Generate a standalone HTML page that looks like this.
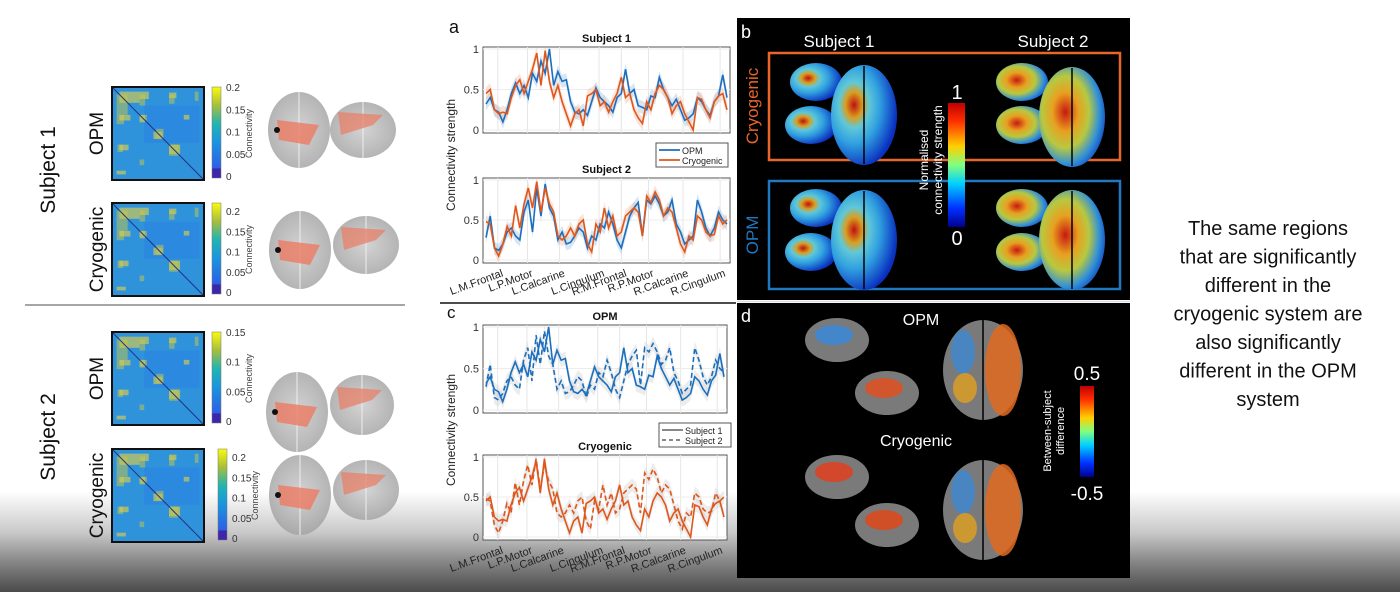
<!DOCTYPE html>
<html><head><meta charset="utf-8"><style>
html,body{margin:0;padding:0;width:1400px;height:592px;overflow:hidden;font-family:"Liberation Sans",sans-serif}
svg{display:block}
</style></head><body>
<svg id="root" width="1400" height="592" viewBox="0 0 1400 592" xmlns="http://www.w3.org/2000/svg">
<defs>
<linearGradient id="bg" x1="0" y1="0" x2="0" y2="1">
<stop offset="0" stop-color="#fff"/><stop offset="0.83" stop-color="#fff"/><stop offset="0.9" stop-color="#c8c8c8"/><stop offset="0.95" stop-color="#858585"/><stop offset="1" stop-color="#4a4a4a"/></linearGradient>
<linearGradient id="parula" x1="0" y1="1" x2="0" y2="0"><stop offset="0" stop-color="#3e26a8"/><stop offset="0.1" stop-color="#3e26a8"/><stop offset="0.11" stop-color="#2d5fe6"/><stop offset="0.4" stop-color="#1996de"/><stop offset="0.6" stop-color="#22b5b0"/><stop offset="0.8" stop-color="#a8be3b"/><stop offset="1" stop-color="#f9fb0e"/></linearGradient>
<linearGradient id="jet" x1="0" y1="1" x2="0" y2="0"><stop offset="0" stop-color="#00008f"/><stop offset="0.15" stop-color="#0030ff"/><stop offset="0.35" stop-color="#00d0ff"/><stop offset="0.5" stop-color="#80ff80"/><stop offset="0.65" stop-color="#ffd000"/><stop offset="0.85" stop-color="#ff3000"/><stop offset="1" stop-color="#c00000"/></linearGradient>
<radialGradient id="bjet1" cx="0.35" cy="0.4" r="0.65"><stop offset="0" stop-color="#c01010"/><stop offset="0.2" stop-color="#d8a020"/><stop offset="0.35" stop-color="#60c8d8"/><stop offset="0.6" stop-color="#30a0e0"/><stop offset="1" stop-color="#0a30c0"/></radialGradient>
<radialGradient id="bjet2" cx="0.4" cy="0.45" r="0.65"><stop offset="0" stop-color="#c81810"/><stop offset="0.3" stop-color="#e8a020"/><stop offset="0.55" stop-color="#b8c840"/><stop offset="0.8" stop-color="#3090d8"/><stop offset="1" stop-color="#1040c0"/></radialGradient>
<radialGradient id="gbrain" cx="0.5" cy="0.5" r="0.6"><stop offset="0" stop-color="#c8c8c8"/><stop offset="1" stop-color="#9a9a9a"/></radialGradient>
</defs>
<rect x="0" y="0" width="1400" height="592" fill="url(#bg)"/>
<g id="left"></g>
<g id="charts"></g>
<g id="panelB">
<rect x="737" y="18" width="393" height="282" fill="#000"/>
<text x="741" y="38" fill="#fff" font-size="18">b</text>
<text x="839" y="47" fill="#fff" font-size="17" text-anchor="middle">Subject 1</text>
<text x="1053" y="47" fill="#fff" font-size="17" text-anchor="middle">Subject 2</text>
<rect x="769" y="53" width="351" height="107" fill="none" stroke="#e8662a" stroke-width="2.5"/>
<rect x="769" y="181" width="351" height="108" fill="none" stroke="#1f78c0" stroke-width="2.5"/>
<text transform="translate(758,106) rotate(-90)" fill="#e8662a" font-size="17" text-anchor="middle">Cryogenic</text>
<text transform="translate(758,235) rotate(-90)" fill="#1f78c0" font-size="17" text-anchor="middle">OPM</text>
<g id="bBrains"></g>
<rect x="948" y="103" width="17" height="124" fill="url(#jet)"/>
<text x="957" y="99" fill="#fff" font-size="20" text-anchor="middle">1</text>
<text x="957" y="245" fill="#fff" font-size="20" text-anchor="middle">0</text>
<text transform="translate(934,160) rotate(-90)" fill="#fff" font-size="12" text-anchor="middle"><tspan x="0" dy="-6">Normalised</tspan><tspan x="0" dy="14">connectivity strength</tspan></text>
</g>
<g id="panelD">
<rect x="737" y="303" width="393" height="275" fill="#000"/>
<text x="741" y="322" fill="#fff" font-size="18">d</text>
<text x="921" y="325" fill="#fff" font-size="16" text-anchor="middle">OPM</text>
<text x="916" y="446" fill="#fff" font-size="16" text-anchor="middle">Cryogenic</text>
<g id="dBrains"></g>
<rect x="1080" y="386" width="14" height="91" fill="url(#jet)"/>
<text x="1087" y="380" fill="#fff" font-size="19" text-anchor="middle">0.5</text>
<text x="1087" y="500" fill="#fff" font-size="19" text-anchor="middle">-0.5</text>
<text transform="translate(1056,431) rotate(-90)" fill="#fff" font-size="11" text-anchor="middle"><tspan x="0" dy="-5">Between-subject</tspan><tspan x="0" dy="13">difference</tspan></text>
</g>
<line x1="737" y1="301.5" x2="1130" y2="301.5" stroke="#ddd" stroke-width="1.5"/>
<text x="1268" y="235" font-size="20" text-anchor="middle" fill="#111"><tspan x="1268" dy="0">The same regions</tspan><tspan x="1268" dy="28.5">that are significantly</tspan><tspan x="1268" dy="28.5">different in the</tspan><tspan x="1268" dy="28.5">cryogenic system are</tspan><tspan x="1268" dy="28.5">also significantly</tspan><tspan x="1268" dy="28.5">different in the OPM</tspan><tspan x="1268" dy="28.5">system</tspan></text>
</svg>
<script>
const regions=["L.M.Frontal","L.P.Motor","L.Calcarine","L.Cingulum","R.M.Frontal","R.P.Motor","R.Calcarine","R.Cingulum"];
const regionPos=[0.06,0.18,0.31,0.47,0.56,0.67,0.81,0.96];
const yTicks=[0,0.5,1];
const yTickLabels=["0","0.5","1"];
const s1Opm=[0.32,0.4,0.25,0.22,0.1,0.25,0.45,0.58,0.45,0.55,0.4,0.7,0.6,0.85,0.7,1.0,0.55,0.72,0.6,0.62,0.35,0.22,0.2,0.25,0.18,0.35,0.52,0.4,0.35,0.3,0.22,0.4,0.45,0.75,0.45,0.5,0.3,0.28,0.25,0.42,0.4,0.65,0.5,0.4,0.3,0.38,0.25,0.12,0.15,0.2,0.4,0.35,0.25,0.18,0.35,0.42,0.68,0.4];
const s1Cryo=[0.45,0.5,0.25,0.2,0.22,0.2,0.4,0.55,0.62,0.45,0.6,0.75,0.95,0.55,0.98,0.6,0.4,0.55,0.35,0.2,0.05,0.2,0.25,0.05,0.42,0.45,0.5,0.3,0.35,0.22,0.35,0.45,0.65,0.4,0.45,0.25,0.15,0.08,0.35,0.25,0.45,0.55,0.5,0.4,0.2,0.3,0.35,0.2,0.1,0.0,0.4,0.38,0.25,0.15,0.35,0.42,0.45,0.25];
const s2Opm=[0.28,0.55,0.15,0.12,0.2,0.35,0.4,0.3,0.25,0.6,0.75,0.35,0.9,0.55,0.95,0.65,0.55,0.25,0.35,0.2,0.22,0.3,0.4,0.35,0.15,0.3,0.25,0.45,0.4,0.6,0.45,0.25,0.15,0.35,0.55,0.65,0.72,0.3,0.75,0.7,0.8,0.7,0.55,0.6,0.75,0.45,0.35,0.2,0.25,0.3,0.75,0.6,0.4,0.3,0.4,0.6,0.5,0.45];
const s2Cryo=[0.48,0.45,0.15,0.05,0.2,0.42,0.3,0.68,0.4,0.7,0.9,0.65,0.98,0.6,0.9,0.7,0.6,0.3,0.25,0.3,0.4,0.3,0.45,0.5,0.2,0.1,0.45,0.35,0.65,0.4,0.55,0.3,0.35,0.55,0.6,0.65,0.6,0.3,0.8,0.72,0.85,0.75,0.55,0.65,0.6,0.4,0.2,0.1,0.3,0.25,0.55,0.5,0.35,0.3,0.32,0.55,0.45,0.5];
const bandHalfWidth=0.08;
const NS="http://www.w3.org/2000/svg";
function mk(tag,attrs,parent){const e=document.createElementNS(NS,tag);for(const k in attrs)e.setAttribute(k,attrs[k]);parent.appendChild(e);return e;}
const charts=document.getElementById('charts');
const BLUE="#1a6fbf",ORANGE="#e0561b";
function plot(cfg){
  const {x0,x1,yTop,yZero,title,series}=cfg;
  const sx=(i,n)=>x0+3+(x1-x0-6)*i/(n-1);
  const sy=v=>yZero-(yZero-yTop-2)*v;
  const g=mk('g',{},charts);
  
  
  const fr=mk('rect',{x:x0,y:yTop,width:x1-x0,height:yZero-yTop+3,fill:'#fff',stroke:'#555','stroke-width':1},g);
  
  
  regionPos.forEach(p=>{const l=mk('line',{x1:x0+(x1-x0)*p,x2:x0+(x1-x0)*p,y1:yTop,y2:yZero+3,stroke:'#e6e6e6'},g);
    
    });
  yTicks.forEach((t,i)=>{const y=sy(t);
    const gl=mk('line',{x1:x0,x2:x1,y1:y,y2:y,stroke:'#ececec'},g);
    
    
    const tx=mk('text',{x:x0-4,y:y+4,'font-size':11,'text-anchor':'end',fill:'#333'},g);tx.textContent=yTickLabels[i];
    
    });
  const tt=mk('text',{x:(x0+x1)/2,y:yTop-5,'font-size':11,'font-weight':'bold','text-anchor':'middle',fill:'#111'},g);tt.textContent=title;
  
  
  series.forEach(s=>{const n=s.data.length;
    let up=s.data.map((v,i)=>sx(i,n)+','+sy(Math.min(1.05,v+bandHalfWidth)));
    let dn=s.data.map((v,i)=>sx(i,n)+','+sy(Math.max(-0.05,v-bandHalfWidth))).reverse();
    const b=mk('polygon',{points:up.concat(dn).join(' '),fill:s.band,opacity:0.35},g);
    
    });
  series.forEach(s=>{const n=s.data.length;
    const p=mk('polyline',{points:s.data.map((v,i)=>sx(i,n)+','+sy(v)).join(' '),fill:'none',stroke:s.color,'stroke-width':1.6,'stroke-dasharray':s.dash||'none'},g);
    
    });
  if(cfg.xlabels){regions.forEach((r,i)=>{const x=x0+(x1-x0)*regionPos[i];
    const t=mk('text',{transform:`translate(${x+6},${yZero+16}) rotate(-20)`,'font-size':11,'text-anchor':'end',fill:'#222'},g);t.textContent=r;
    
    });}
}
plot({name:'subject-1-plot',x0:483,x1:730,yTop:47,yZero:130,title:'Subject 1',series:[{name:'opm-line',data:s1Opm,color:BLUE,band:'#8fb8e0'},{name:'cryogenic-line',data:s1Cryo,color:ORANGE,band:'#f0b090'}]});
plot({name:'subject-2-plot',x0:483,x1:730,yTop:178,yZero:260,title:'Subject 2',xlabels:true,series:[{name:'opm-line',data:s2Opm,color:BLUE,band:'#8fb8e0'},{name:'cryogenic-line',data:s2Cryo,color:ORANGE,band:'#f0b090'}]});
plot({name:'opm-plot',x0:483,x1:727,yTop:325,yZero:410,title:'OPM',series:[{name:'subject-1-line',data:s1Opm,color:BLUE,band:'#c8c8c8'},{name:'subject-2-line',data:s2Opm,color:BLUE,band:'#c8c8c8',dash:'5,3'}]});
plot({name:'cryogenic-plot',x0:483,x1:727,yTop:455,yZero:537,title:'Cryogenic',xlabels:true,series:[{name:'subject-1-line',data:s1Cryo,color:ORANGE,band:'#c8c8c8'},{name:'subject-2-line',data:s2Cryo,color:ORANGE,band:'#c8c8c8',dash:'5,3'}]});
function txt(s,a,name){const t=mk('text',a,charts);t.textContent=s;
  
  return t;}
txt('a',{x:449,y:33,'font-size':18,fill:'#111'},'panel-a-letter');
txt('c',{x:447,y:318,'font-size':17,fill:'#111'},'panel-c-letter');
txt('Connectivity strength',{transform:'translate(455,155) rotate(-90)','font-size':12,'text-anchor':'middle',fill:'#222'},'y-axis-title-a');
txt('Connectivity strength',{transform:'translate(455,430) rotate(-90)','font-size':12,'text-anchor':'middle',fill:'#222'},'y-axis-title-c');
const sep=mk('line',{x1:440,x2:736,y1:303,y2:303,stroke:'#111','stroke-width':1.5},charts);


function legend(x,y,items){const g=mk('g',{},charts);
  
  
  mk('rect',{x:x,y:y,width:72,height:24,fill:'#fff',stroke:'#555'},g);
  items.forEach((it,i)=>{mk('line',{x1:x+3,x2:x+24,y1:y+7+i*10,y2:y+7+i*10,stroke:it.c,'stroke-width':1.8,'stroke-dasharray':it.d||'none'},g);
    const t=mk('text',{x:x+26,y:y+11+i*10,'font-size':9,fill:'#222'},g);t.textContent=it.t;
    
    });}
legend(656,143,[{c:BLUE,t:'OPM'},{c:ORANGE,t:'Cryogenic'}]);
legend(659,423,[{c:'#777',t:'Subject 1'},{c:'#777',t:'Subject 2',d:'4,3'}]);

const L=document.getElementById('left');
function ltxt(s,a,name){const t=mk('text',a,L);t.textContent=s;
  
  }
ltxt('Subject 1',{transform:'translate(55,170) rotate(-90)','font-size':21,'text-anchor':'middle',fill:'#111'},'subject-1-label');
ltxt('Subject 2',{transform:'translate(55,437) rotate(-90)','font-size':21,'text-anchor':'middle',fill:'#111'},'subject-2-label');
const ls=mk('line',{x1:25,x2:405,y1:305,y2:305,stroke:'#888','stroke-width':1.5},L);


const yellowBlocks=[[0.08,0.05,0.22,0.12],[0.3,0.05,0.1,0.08],[0.62,0.06,0.08,0.06],[0.08,0.3,0.12,0.06],[0.45,0.48,0.1,0.08],[0.3,0.3,0.06,0.08],[0.08,0.62,0.1,0.06],[0.62,0.62,0.12,0.1],[0.05,0.9,0.1,0.04],[0.78,0.3,0.06,0.05]];
const mats=[
 {y:87,ticks:['0.2','0.15','0.1','0.05','0'],label:'OPM',cb:212},
 {y:203,ticks:['0.2','0.15','0.1','0.05','0'],label:'Cryogenic',cb:212},
 {y:332,ticks:['0.15','0.1','0.05','0'],label:'OPM',cb:212},
 {y:449,ticks:['0.2','0.15','0.1','0.05','0'],label:'Cryogenic',cb:218}];
mats.forEach((m,k)=>{const x=112,w=92,h=93;const g=mk('g',{},L);
  
  
  mk('rect',{x:x,y:m.y,width:w,height:h,fill:'#2f93dc'},g);
  mk('rect',{x:x+w*0.35,y:m.y+h*0.2,width:w*0.6,height:h*0.4,fill:'#2a86e0',opacity:0.7},g);
  yellowBlocks.forEach(b=>{mk('rect',{x:x+w*b[0],y:m.y+h*b[1],width:w*b[2],height:h*b[3],fill:'#e8d040',opacity:0.6},g);
    mk('rect',{x:x+w*b[1],y:m.y+h*b[0],width:w*b[3],height:h*b[2],fill:'#c8c845',opacity:0.5},g);});
  mk('line',{x1:x,y1:m.y,x2:x+w,y2:m.y+h,stroke:'#203080','stroke-width':1},g);
  mk('rect',{x:x,y:m.y,width:w,height:h,fill:'none',stroke:'#111','stroke-width':2},g);
  mk('rect',{x:m.cb,y:m.y,width:9,height:h-2,fill:'url(#parula)',stroke:'#777','stroke-width':0.5},g);
  const n=m.ticks.length;
  m.ticks.forEach((t,i)=>{const tt=mk('text',{x:m.cb+14,y:m.y+4+(h-4)*i/(n-1)+(k==1||k==3?8*(1-i/(n-1)):0),'font-size':10,fill:'#333'},g);tt.textContent=t;
    
    });
  const ct=mk('text',{transform:`translate(${m.cb+40},${m.y+h/2}) rotate(-90)`,'font-size':9,'text-anchor':'middle',fill:'#444'},g);ct.textContent='Connectivity';
  
  
  const lb=mk('text',{transform:`translate(103,${m.y+h/2}) rotate(-90)`,'font-size':19,'text-anchor':'middle',fill:'#111'},g);lb.textContent=m.label;
  
  
});
const glass=[[299,130,31,38,363,130,33,28],[300,250,31,39,366,245,33,29],[297,412,31,40,362,405,32,30],[300,495,31,40,366,490,33,30]];
glass.forEach(b=>{const g=mk('g',{},L);
  
  
  mk('ellipse',{cx:b[0],cy:b[1],rx:b[2],ry:b[3],fill:'url(#gbrain)',opacity:0.8},g);
  mk('line',{x1:b[0],y1:b[1]-b[3],x2:b[0],y2:b[1]+b[3],stroke:'#eee'},g);
  mk('ellipse',{cx:b[4],cy:b[5],rx:b[6],ry:b[7],fill:'url(#gbrain)',opacity:0.8},g);
  mk('line',{x1:b[4],y1:b[5]-b[7],x2:b[4],y2:b[5]+b[7],stroke:'#eee'},g);
  mk('path',{d:`M${b[0]-22} ${b[1]-10} L${b[0]+20} ${b[1]-5} L${b[0]+10} ${b[1]+15} L${b[0]-20} ${b[1]+10} Z`,fill:'#ec7a62',opacity:0.8},g);
  mk('path',{d:`M${b[4]-25} ${b[5]-18} L${b[4]+20} ${b[5]-15} L${b[4]+10} ${b[5]-5} L${b[4]-22} ${b[5]+5} Z`,fill:'#e8806a',opacity:0.75},g);
  mk('circle',{cx:b[0]-22,cy:b[1],r:3,fill:'#111'},g);
});
const B=document.getElementById('bBrains');
const bb=[[816,82,'bjet1'],[811,125,'bjet1'],[864,115,'bjet1',1],[1022,82,'bjet2'],[1022,125,'bjet2'],[1072,117,'bjet2',1],[816,208,'bjet1'],[811,252,'bjet1'],[864,240,'bjet1',1],[1022,208,'bjet2'],[1022,252,'bjet2'],[1072,240,'bjet2',1]];
bb.forEach(b=>{const e=mk('ellipse',{cx:b[0],cy:b[1],rx:b[3]?33:26,ry:b[3]?50:19,fill:`url(#${b[2]})`},B);
  
  
  if(b[3])mk('line',{x1:b[0],y1:b[1]-49,x2:b[0],y2:b[1]+49,stroke:'#000','stroke-width':1.5},B);});
const D=document.getElementById('dBrains');
const db=[[837,340,0,'#3a8ad8'],[887,393,0,'#e05020'],[983,370,1],[837,477,0,'#e04020'],[887,525,0,'#e04818'],[983,510,1]];
db.forEach(b=>{const e=mk('ellipse',{cx:b[0],cy:b[1],rx:b[2]?40:32,ry:b[2]?50:22,fill:'#7a7a7a'},D);
  
  
  if(b[2]){mk('ellipse',{cx:b[0]+20,cy:b[1],rx:18,ry:46,fill:'#e06a20',opacity:0.85},D);
    mk('ellipse',{cx:b[0]-20,cy:b[1]-18,rx:12,ry:22,fill:'#3a8ad8',opacity:0.75},D);
    mk('ellipse',{cx:b[0]-18,cy:b[1]+18,rx:12,ry:15,fill:'#e0a020',opacity:0.8},D);
    mk('line',{x1:b[0],y1:b[1]-50,x2:b[0],y2:b[1]+50,stroke:'#000','stroke-width':1.5},D);}
  else{mk('ellipse',{cx:b[0]-3,cy:b[1]-5,rx:19,ry:10,fill:b[3],opacity:0.85},D);}
});
</script>
</body></html>
